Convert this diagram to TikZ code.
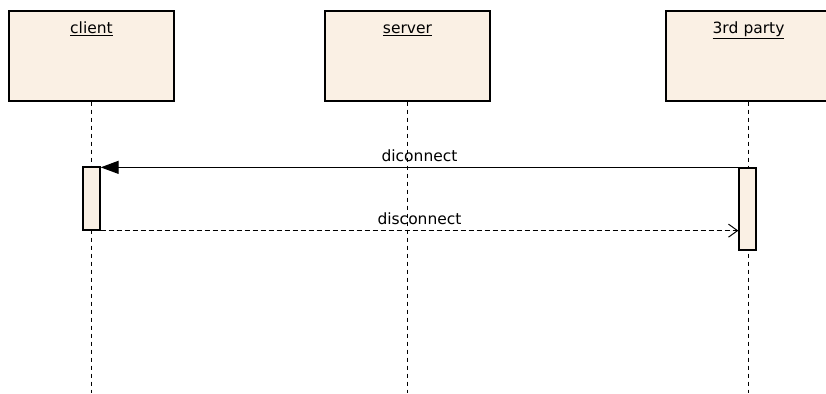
\documentclass[tikz,border=0pt]{standalone}
\usepackage{fontspec}
\setmainfont{DejaVu Sans}
\usepackage{xcolor}
\usetikzlibrary{arrows.meta}
\definecolor{lifefill}{RGB}{250,240,228}

\begin{document}
\begin{tikzpicture}[x=1pt, y=-1pt,
		objbox/.style = {draw, line width=1.3pt, fill=lifefill, minimum width=165pt, minimum height=90pt, inner sep=0pt},
		objname/.style = {anchor=north, text height=11pt, text depth=4pt, inner sep=0pt},
		actbar/.style = {draw, line width=1.3pt, fill=lifefill, minimum width=17pt, inner sep=0pt},
		lifeline/.style = {line width=1.1pt, dash pattern=on 4pt off 4pt},
		msg/.style = {above, inner sep=5pt}]
				\useasboundingbox (0,0) rectangle (826,393);
				\fontsize{15.5}{17}\selectfont
				% objects
				\node[objbox] (client) at (91.5,56) {};
				\node[objbox] (server) at (407.5,56) {};
				\node[objbox] (third) at (748.5,56) {};
				\node[objname] at ([yshift=-12pt]client.north) {\underline{client}};
				\node[objname] at ([yshift=-12pt]server.north) {\underline{server}};
				\node[objname] at ([yshift=-12pt]third.north) {\underline{3rd\,\,party}};
				% lifelines
				\coordinate (clientend) at (91.5,393);
				\coordinate (serverend) at (407.5,393);
				\coordinate (thirdend) at (748.5,393);
				\draw[lifeline] (client.south) -- (clientend);
				\draw[lifeline] (server.south) -- (serverend);
				\draw[lifeline] (third.south) -- (thirdend);
				% activations
				\node[actbar, minimum height=63pt] (actclient) at (91.5,198.5) {};
				\node[actbar, minimum height=82pt] (actthird) at (747.5,209) {};
				% messages
				\draw[line width=1.3pt, -{Triangle[length=18pt,width=13pt]}] (actthird.north west) -- (actthird.north west -| actclient.east) node[msg, midway] {diconnect};
				\draw[line width=1.1pt, dash pattern=on 5pt off 3pt, -{Straight Barb[length=9pt,width=13pt,line width=1pt]}] (actclient.south east) -- (actclient.south east -| actthird.west) node[msg, midway] {disconnect};
			\end{tikzpicture}
\end{document}
